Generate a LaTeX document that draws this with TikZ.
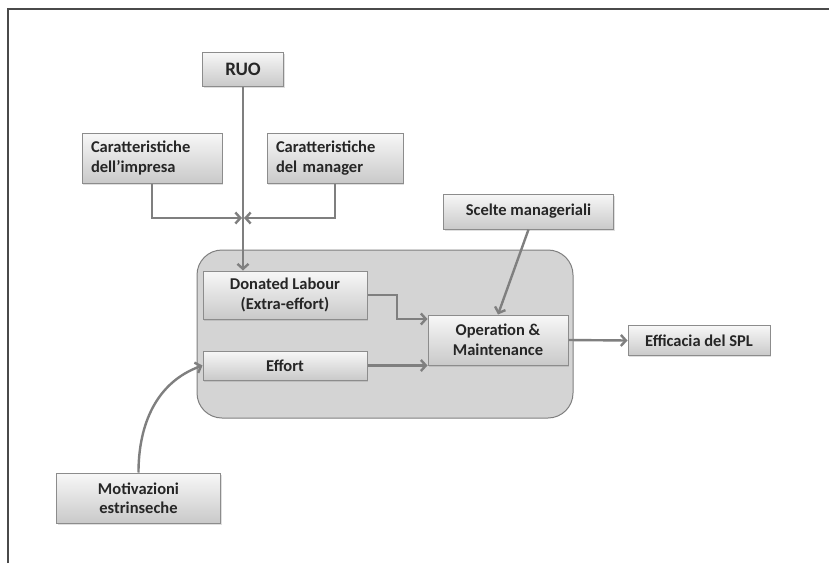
\documentclass[tikz,border=0pt]{standalone}
\usepackage{fontspec}
\setmainfont{Carlito}
\usetikzlibrary{arrows.meta,shadows}
\definecolor{linegray}{HTML}{7F7F7F}
\definecolor{boxborder}{HTML}{8C8C8C}
\definecolor{groupfill}{HTML}{D4D4D4}
\definecolor{framecol}{HTML}{4A4A4A}
\tikzset{
  box/.style={draw=boxborder, line width=1pt, top color=white!94!gray, bottom color=gray!42,
    drop shadow={opacity=0.25, shadow xshift=1pt, shadow yshift=-1.5pt},
    inner sep=0pt, align=center, font=\fontsize{16.5}{19.5}\selectfont\bfseries, text=black!85},
  lbox/.style={box, align=left},
  arr/.style={draw=linegray, line width=2.4pt,
    -{Straight Barb[length=5pt,width=11pt]}},
  group/.style={draw=linegray, line width=1pt, fill=groupfill, rounded corners=25pt}
}
\begin{document}
\begin{tikzpicture}[x=1pt,y=-1pt]
\useasboundingbox (0,0) rectangle (829,565);
\fill[white] (0,0) rectangle (829,565);
\draw[line width=2pt, framecol] (8,563) -- (8,9) -- (829,9);

\draw[group] (197,250) rectangle (573,418);

\node[box, minimum width=81pt, minimum height=34pt, font=\fontsize{19}{22}\selectfont\bfseries] (ruo) at (243,69) {RUO};
\node[lbox, minimum width=140pt, minimum height=50pt, text width=122pt] (imp) at (152,158) {Caratteristiche\\dell’impresa};
\node[lbox, minimum width=136pt, minimum height=50pt, text width=118pt] (man) at (335,158) {Caratteristiche\\del manager};
\node[box, minimum width=164pt, minimum height=48pt] (don) at (285,295) {Donated Labour\\(Extra-effort)};
\node[box, minimum width=164pt, minimum height=29pt] (eff) at (285,365.5) {Effort};
\node[box, minimum width=140pt, minimum height=50pt] (om) at (498,340) {Operation \&\\Maintenance};
\node[box, minimum width=170pt, minimum height=35pt] (sc) at (528.5,211.5) {Scelte manageriali};
\node[box, minimum width=142pt, minimum height=30pt] (spl) at (699,340.5) {Efficacia del SPL};
\node[box, minimum width=164pt, minimum height=50pt] (mot) at (138.5,498) {Motivazioni\\estrinseche};

\coordinate (J) at (243,218);
\coordinate (dbend) at (397,295);
\draw[arr] (ruo.south) -- (ruo.south |- don.north);
\draw[arr, shorten >=1pt] (imp.south) |- (J);
\draw[arr, shorten >=1pt] (man.south) |- (J);
\draw[arr] (don.east) -- (dbend) |- ([yshift=21pt]om.west);
\draw[arr] (eff.east) -- (eff.east -| om.west);
\draw[arr] (sc.south) -- (om.north);
\draw[arr] (om.east) -- (spl.west);
\draw[arr] (mot.north) to[out=90, in=200] (eff.west);
\end{tikzpicture}
\end{document}
